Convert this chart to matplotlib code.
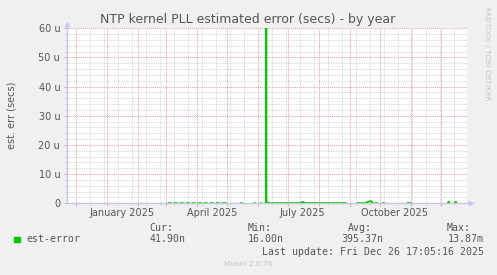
import matplotlib
matplotlib.use("Agg")
import matplotlib.pyplot as plt
import matplotlib.dates as mdates
import matplotlib.ticker as mticker
from matplotlib.patches import Rectangle
import matplotlib.transforms as mtransforms
import numpy as np
import pandas as pd

# ---------------- data ----------------
# estimated error in microseconds; None = no data (gap)
points = [
    ("2025-03-03", 0.05), ("2025-03-07", 0.05), ("2025-03-07", None),
    ("2025-03-09", 0.05), ("2025-03-13", 0.05), ("2025-03-13", None),
    ("2025-03-15", 0.05), ("2025-03-19", 0.06), ("2025-03-19", None),
    ("2025-03-21", 0.05), ("2025-03-25", 0.05), ("2025-03-25", None),
    ("2025-03-27", 0.05), ("2025-03-31", 0.05), ("2025-03-31", None),
    ("2025-04-02", 0.05), ("2025-04-06", 0.05), ("2025-04-06", None),
    ("2025-04-08", 0.05), ("2025-04-12", 0.05), ("2025-04-12", None),
    ("2025-04-14", 0.05), ("2025-04-18", 0.05), ("2025-04-18", None),
    ("2025-04-20", 0.05), ("2025-04-24", 0.05), ("2025-04-24", None),
    ("2025-04-26", 0.05), ("2025-05-01", 0.05), ("2025-05-01", None),
    ("2025-05-14", 0.05), ("2025-05-17", 0.05), ("2025-05-17", None),
    ("2025-05-28", 0.05), ("2025-05-30", 0.05), ("2025-05-30", None),
    ("2025-06-03", 0.05), ("2025-06-05", 0.05), ("2025-06-05", None),
    ("2025-06-08", 0.05), ("2025-06-09 06:00", 0.05),
    ("2025-06-09 12:00", 13870.0),
    ("2025-06-09 18:00", 0.30), ("2025-06-11", 0.30), ("2025-06-12", 0.05),
    ("2025-07-14", 0.05), ("2025-07-15", 0.40), ("2025-07-17", 0.40),
    ("2025-07-18", 0.05), ("2025-08-29", 0.05), ("2025-08-29", None),
    ("2025-09-08", 0.05), ("2025-09-17", 0.05), ("2025-09-18", 0.35),
    ("2025-09-21", 0.70), ("2025-09-23", 0.70), ("2025-09-24", 0.05),
    ("2025-09-24", None),
    ("2025-09-26", 0.05), ("2025-09-29", 0.05), ("2025-09-29", None),
    ("2025-10-03", 0.05), ("2025-10-06", 0.05), ("2025-10-06", None),
    ("2025-10-28", 0.05), ("2025-11-02", 0.05), ("2025-11-02", None),
    ("2025-12-08", 0.10), ("2025-12-09", 0.60), ("2025-12-10", 0.10),
    ("2025-12-10", None),
    ("2025-12-15", 0.10), ("2025-12-16", 0.55), ("2025-12-17", 0.10),
]
series_dates = [p[0] for p in points]
series_values = [np.nan if p[1] is None else p[1] for p in points]

x_start = "2024-11-22"
x_days = 400
month_labels = ["January 2025", "April 2025", "July 2025", "October 2025"]
month_label_dates = ["2025-01-16", "2025-04-16", "2025-07-16", "2025-10-16"]
y_max = 60

legend_name = "est-error"
stat_names = ["Cur:", "Min:", "Avg:", "Max:"]
stat_values = ["41.90n", "16.00n", "395.37n", "13.87m"]
last_update = "Last update: Fri Dec 26 17:05:16 2025"

# ---------------- figure ----------------
W, H = 497, 275
BG = "#F0F0F0"
TXT = "#555555"
GREEN = "#00CC00"
fig = plt.figure(figsize=(W / 100, H / 100), dpi=100, facecolor=BG)

L, R, T, B = 66.7, 466.7, 28.3, 203.3
ax = fig.add_axes([L / W, 1 - B / H, (R - L) / W, (B - T) / H])
ax.set_facecolor("white")

x0 = mdates.date2num(pd.Timestamp(x_start))
ax.set_xlim(x0, x0 + x_days)
ax.set_ylim(0, y_max)

xd = mdates.date2num(pd.to_datetime(series_dates, format="mixed"))
ax.plot(xd, series_values, color=GREEN, lw=1.3, solid_capstyle="butt", zorder=3)

# grid
minor_days = mdates.date2num(pd.date_range("2024-11-17", "2025-12-31", freq="14D"))
ax.xaxis.set_major_locator(mdates.MonthLocator())
ax.xaxis.set_minor_locator(mticker.FixedLocator(minor_days))
ax.xaxis.set_major_formatter(mticker.NullFormatter())
ax.yaxis.set_major_locator(mticker.MultipleLocator(10))
ax.yaxis.set_minor_locator(mticker.MultipleLocator(2))
ax.yaxis.set_major_formatter(mticker.FuncFormatter(
    lambda v, p: "0" if v == 0 else f"{v:.0f} u"))

ax.grid(which="minor", color="#CDCDCD", linestyle=(0, (1, 1)), lw=0.6)
ax.grid(which="major", color="#E4A0A0", linestyle=(0, (1, 1)), lw=0.7)
ax.set_axisbelow(True)

ax.tick_params(which="major", length=2.2, width=0.7, color="#E4A0A0",
               labelsize=7, labelcolor=TXT, pad=2.5)
ax.tick_params(which="minor", length=1.5, width=0.6, color="#CDCDCD")

for s in ["top", "right"]:
    ax.spines[s].set_visible(False)
for s in ["left", "bottom"]:
    ax.spines[s].set_color("#C4C4E4")
    ax.spines[s].set_linewidth(1.0)

# arrows
ax.plot([1.0095], [0], marker=">", ms=4, color="#C4C4F4", mec="none",
        transform=ax.transAxes, clip_on=False)
ax.plot([0], [1.027], marker="^", ms=4, color="#C4C4F4", mec="none",
        transform=ax.transAxes, clip_on=False)

# month labels
trans = mtransforms.blended_transform_factory(ax.transData, ax.transAxes)
for d, lab in zip(month_label_dates, month_labels):
    ax.text(mdates.date2num(pd.Timestamp(d)), -9.2 / 175, lab, transform=trans,
            ha="center", va="center", fontsize=7, color=TXT)

def fx(x):
    return x / W

def fy(y):
    return 1 - y / H

fig.text(fx(248), fy(19), "NTP kernel PLL estimated error (secs) - by year",
         ha="center", va="center", fontsize=9, color=TXT)
fig.text(fx(11.7), fy(115.7), "est. err (secs)", rotation=90,
         ha="center", va="center", fontsize=7, color=TXT)
fig.text(fx(487.5), fy(53.5), "RRDTOOL / TOBI OETIKER", rotation=270,
         ha="center", va="center", fontsize=5.3, color="#C4C4C4")

mono = "DejaVu Sans Mono"
ms = 7.1
stat_x = [149.3, 248.0, 348.3, 446.7]
val_x = [149.3, 247.5, 341.7, 447.3]
for n, x in zip(stat_names, stat_x):
    fig.text(fx(x), fy(228), n, ha="left", va="center", family=mono,
             fontsize=ms, color=TXT)
for v, x in zip(stat_values, val_x):
    fig.text(fx(x), fy(239.5), v, ha="left", va="center", family=mono,
             fontsize=ms, color=TXT)
fig.patches.append(Rectangle((fx(14), fy(242)), 6 / W, 5.5 / H,
                             transform=fig.transFigure, color=GREEN))
fig.text(fx(26.7), fy(239.5), legend_name, ha="left", va="center",
         family=mono, fontsize=ms, color=TXT)
fig.text(fx(261.7), fy(251.7), last_update, ha="left", va="center",
         family=mono, fontsize=ms, color=TXT)
fig.text(fx(247.7), fy(264), "Munin 2.0.76", ha="center", va="center",
         fontsize=5.3, color="#C4C4C4")

fig.savefig("out.png", dpi=100, facecolor=BG)
